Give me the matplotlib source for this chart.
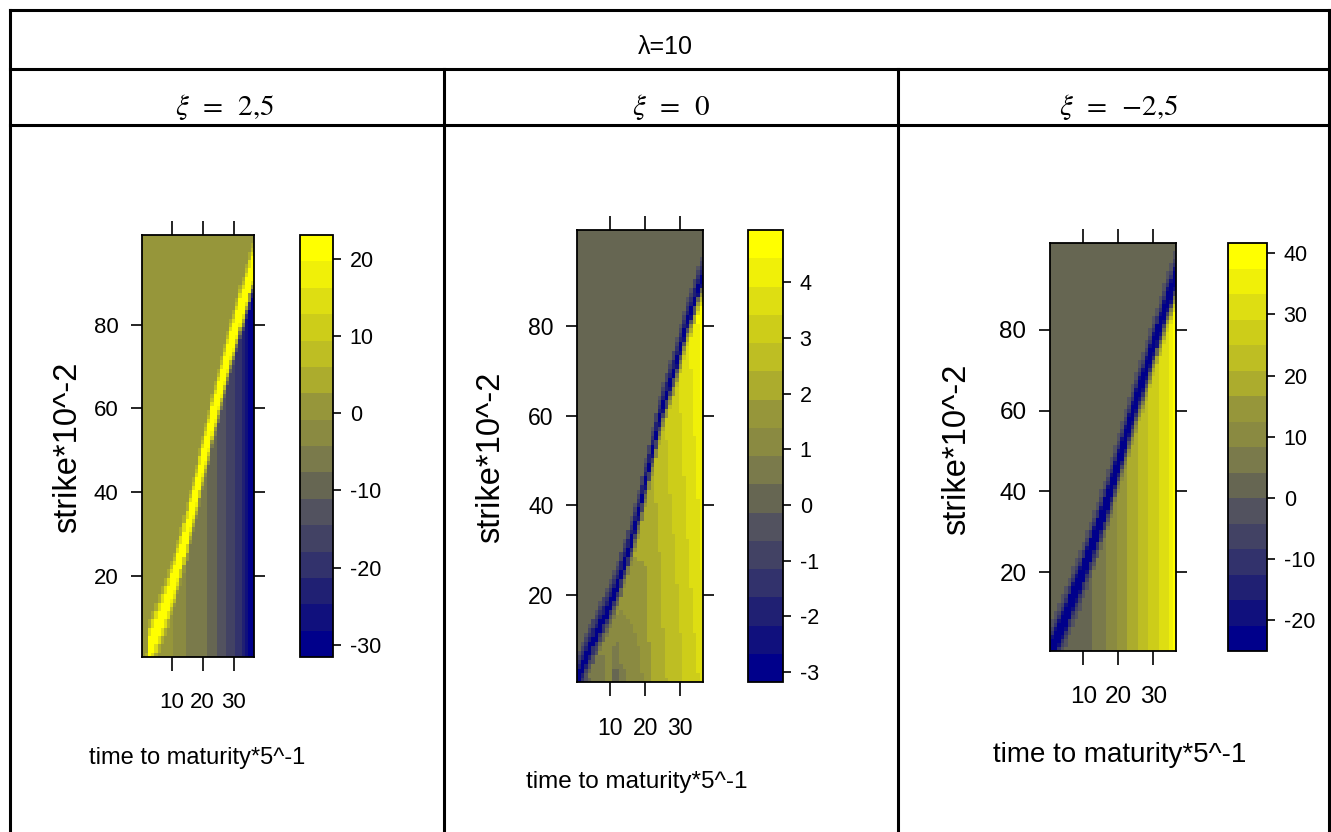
import matplotlib
matplotlib.use("Agg")
import matplotlib.pyplot as plt
import numpy as np
from matplotlib.colors import ListedColormap, BoundaryNorm
from matplotlib.lines import Line2D
from matplotlib import font_manager

# ---- data ----
times = np.arange(1, 37)        # time to maturity * 5^-1
strikes = np.arange(1, 102)     # strike * 10^-2

# strike where the ridge sits, one value per time column
ridge_p1 = [-8, -5, 2.5, 4.5, 6.5, 8.5, 10.5, 12.5, 14.5, 16.7, 19, 21.7, 24.5, 27.5, 30.5, 33.8,
            37, 40.3, 43.5, 46.8, 50, 53.3, 56.6, 60, 63, 66, 69, 71.8, 74.6, 77.3, 80, 82.7,
            85.3, 88, 90.5, 93]
ridge_p2 = [2, 4, 6, 7.8, 9.5, 11.2, 12.8, 14.5, 16.2, 18, 19.8, 22, 24.5, 27, 29.5, 32,
            35, 38, 41.5, 45, 48.5, 52, 55.5, 59, 62, 64.5, 67, 69.5, 72, 75, 78, 80.8,
            83.3, 85.5, 87.6, 89.6]
ridge_p3 = [1, 3, 5, 7, 9.2, 11.5, 13.8, 16, 18.2, 20.5, 23, 25.5, 28, 30.5, 33, 35.5,
            38.2, 41, 43.8, 46.7, 49.6, 52.6, 55.8, 59, 62, 64.8, 67.4, 70, 72.8, 75.6, 78.5, 81.3,
            84, 86.7, 89.3, 91.8]

# values below the ridge (per time column): at the lowest strike and just under the ridge
low_p1 = [0.5, 0.5, 0.5, 0.5, 0.5, 0.3, 0, -0.3, -0.6, -0.8, -1.2, -2.0, -2.8, -3.8, -4.5, -5,
          -5.4, -5.8, -6.3, -6.8, -7.4, -8.2, -9.2, -10.5, -11.5, -12.6, -14, -15, -16.2, -17.5,
          -19, -20.8, -23, -25.5, -28.5, -31.6]
low_p2_bottom = [0.1, 0.1, 0.2, 0.3, 0.5, 0.6, 0.6, 0.6, 0.9, 0.9, 0.2, 0.2, 0.7, 0.8, 0.9, 1.0,
                 1.1, 1.2, 1.35, 1.5, 1.8, 1.9, 2.0, 2.1, 2.3, 2.4, 2.5, 2.6, 2.7, 2.8, 3.0, 3.1,
                 3.2, 3.3, 3.4, 3.6]
low_p2_top = [0.3, 0.4, 0.5, 0.6, 0.7, 0.8, 0.9, 1.0, 1.1, 1.2, 1.3, 1.4, 1.5, 1.6, 1.7, 1.8,
              1.9, 2.0, 2.05, 2.1, 2.25, 2.4, 2.5, 2.65, 2.8, 2.95, 3.1, 3.2, 3.35, 3.5, 3.65, 3.85,
              4.0, 4.2, 4.45, 4.7]
low_p3 = [2, 2, 2, 2, 2, 2, 2, 2, 2, 2, 2.5, 3, 4.5, 5.8, 7, 8.2,
          9.4, 10.8, 12.2, 13.5, 14.8, 16.2, 17.5, 18.8, 20.2, 21.6, 23, 24.5, 26, 27.5, 29, 30.5,
          32.3, 33, 36, 39]

background = [0.5, 0.1, 2.0]          # value above the ridge
peak = [23.1, -3.18, -25.1]           # value on the ridge
limits = [(-31.6, 23.1), (-3.18, 4.94), (-25.1, 41.7)]
# ridge weight by |strike offset|
profiles = [[1, 1, 1, 0.85, 0.6, 0.35, 0.15],
            [1, 0.9, 0.6, 0.4, 0.25, 0.1],
            [1, 1, 0.9, 0.7, 0.5, 0.35, 0.2, 0.1]]

xi_labels = [r'$\xi\ \,=\ \,2{,}5$', r'$\xi\ \,=\ \,0$', r'$\xi\ \,=\ \,{-}2{,}5$']
cbar_ticks = [[-30, -20, -10, 0, 10, 20], [-3, -2, -1, 0, 1, 2, 3, 4],
              [-20, -10, 0, 10, 20, 30, 40]]

# 16 colours, dark blue -> grey -> yellow
colours = ['#00008B', '#10107D', '#202073', '#32326C', '#424264', '#52525F', '#666652', '#7A7A4B',
           '#8A8A41', '#96963A', '#ACAC2D', '#BEBE23', '#CDCD19', '#DEDE12', '#F0F008', '#FFFF00']


def build_grid(ridge, low_bottom, low_top, bg, pk, prof):
    z = np.zeros((len(strikes), len(times)))
    for j in range(len(times)):
        edge = max(ridge[j] - len(prof), 2)
        for i, s in enumerate(strikes):
            d = s - ridge[j]
            if d > 0:
                base = bg
            else:
                frac = min(max((s - 1) / (edge - 1), 0), 1)
                base = low_bottom[j] + frac * (low_top[j] - low_bottom[j])
            k = int(round(abs(d)))
            w = prof[k] if k < len(prof) else 0
            z[i, j] = base + w * (pk - base)
    return z


grids = [build_grid(ridge_p1, low_p1, low_p1, background[0], peak[0], profiles[0]),
         build_grid(ridge_p2, low_p2_bottom, low_p2_top, background[1], peak[1], profiles[1]),
         build_grid(ridge_p3, low_p3, low_p3, background[2], peak[2], profiles[2])]

# ---- fonts ----
names = {f.name for f in font_manager.fontManager.ttflist}
narrow = 'Liberation Sans Narrow' if 'Liberation Sans Narrow' in names else 'Liberation Sans'
plt.rcParams['font.family'] = [narrow, 'DejaVu Sans']
plt.rcParams['axes.unicode_minus'] = False
plt.rcParams['mathtext.fontset'] = 'stix'

W, H = 1331, 832
fig = plt.figure(figsize=(W / 100, H / 100), dpi=100)


def rect(x0, y0, x1, y1):
    return [x0 / W, 1 - y1 / H, (x1 - x0) / W, (y1 - y0) / H]


def line(x0, y0, x1, y1):
    fig.add_artist(Line2D([x0 / W, x1 / W], [1 - y0 / H, 1 - y1 / H], transform=fig.transFigure,
                          color='black', lw=2.2, solid_capstyle='projecting'))


# table frame
line(10, 10, 1329, 10)
line(10, 69, 1329, 69)
line(10, 125, 1329, 125)
line(10, 10, 10, 832)
line(1329, 10, 1329, 832)
line(444, 69, 444, 832)
line(898, 69, 898, 832)

fig.text(665 / W, 1 - 47 / H, 'λ=10', ha='center', va='center', fontsize=18)
for cx, lab in zip([225, 671, 1119], xi_labels):
    fig.text(cx / W, 1 - 107 / H, lab, ha='center', va='center', fontsize=21)

layout = [
    dict(box=(142, 235, 254, 657), cbar=(300, 235, 333, 657), ylab=(68, 447), xlab=(197, 758),
         fs=16, fsx=17),
    dict(box=(577, 230, 703, 682), cbar=(748, 230, 783, 682), ylab=(491, 457), xlab=(637, 782),
         fs=16.5, fsx=17.5),
    dict(box=(1050, 243, 1176, 651), cbar=(1228, 243, 1267, 651), ylab=(957, 449), xlab=(1120, 755),
         fs=17.5, fsx=20),
]

cmap = ListedColormap(colours)
for p in range(3):
    L = layout[p]
    vmin, vmax = limits[p]
    levels = np.linspace(vmin, vmax, 17)
    norm = BoundaryNorm(levels, 16)

    ax = fig.add_axes(rect(*L['box']))
    mesh = ax.pcolormesh(times, strikes, grids[p], cmap=cmap, norm=norm, shading='nearest')
    ax.set_xlim(0.5, 36.5)
    ax.set_ylim(0.5, 101.5)
    ax.set_xticks([10, 20, 30])
    ax.set_yticks([20, 40, 60, 80])
    ax.tick_params(direction='out', length=8, width=1.2, top=True, right=True,
                   labelsize=L['fs'], colors='black')
    ax.tick_params(axis='x', length=10, pad=15)
    ax.tick_params(axis='y', pad=9)
    for sp in ax.spines.values():
        sp.set_linewidth(1.3)

    cax = fig.add_axes(rect(*L['cbar']))
    cb = fig.colorbar(mesh, cax=cax, ticks=cbar_ticks[p])
    cb.outline.set_linewidth(1.3)
    cax.minorticks_off()
    cax.tick_params(length=6, width=1.2, labelsize=15.5, pad=6)

    fig.text(L['ylab'][0] / W, 1 - L['ylab'][1] / H, 'strike*10^-2', rotation=90,
             ha='center', va='center', fontsize=23.5, family=['Liberation Sans', 'DejaVu Sans'])
    fig.text(L['xlab'][0] / W, 1 - L['xlab'][1] / H, 'time to maturity*5^-1',
             ha='center', va='center', fontsize=L['fsx'])

fig.savefig('out.png', dpi=100, facecolor='white')
